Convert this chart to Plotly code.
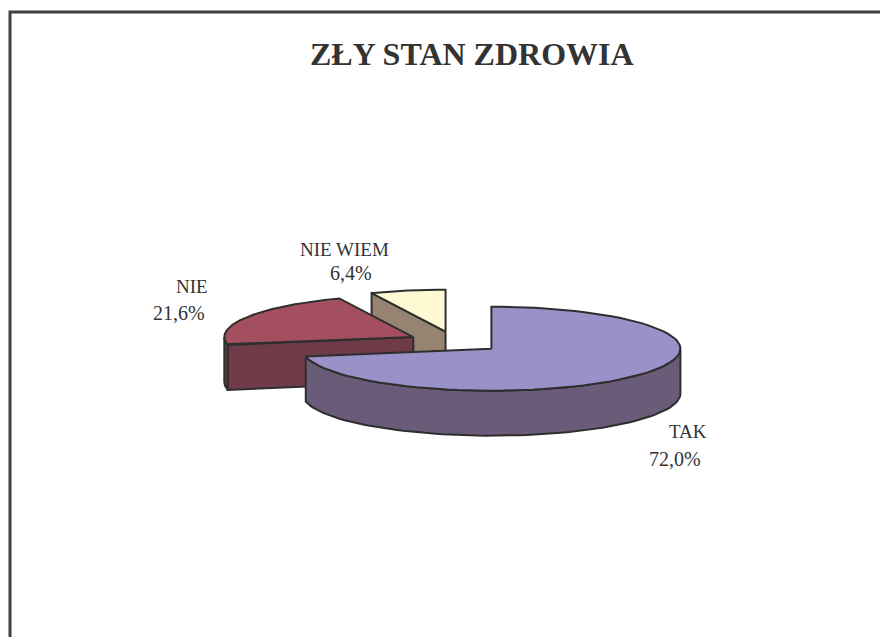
import numpy as np
import plotly.graph_objects as go

# ---- data ----
categories = ["TAK", "NIE", "NIE WIEM"]
values = [72.0, 21.6, 6.4]
title_text = "ZŁY STAN ZDROWIA"

# ---- styles ----
top_colors = ["#9A91C9", "#A34F60", "#FFF9D3"]
side_colors = ["#6A5C79", "#6F3B48", "#978470"]
edge_color = "#2E2E2E"
text_color = "#333333"

# ---- 3D pie projection (page pixel space) ----
CX, CY = 455, 342
RX, RY = 189, 42
DEPTH = 45
EXPLODE = 0.25
PAGE_W, PAGE_H = 888, 637
OFFSET = 8  # default page margin around the figure div

# label anchor points (name line, value line)
label_pos = {
    "TAK": [(688, 431), (675, 459)],
    "NIE": [(192, 286), (179, 313)],
    "NIE WIEM": [(344, 249), (351, 273)],
}


def rim(ax, ay, th, dz=0.0):
    return ax + RX * np.sin(th), ay - RY * np.cos(th) + dz


def arc(ax, ay, t0, t1, dz=0.0, n=80):
    ts = np.linspace(t0, t1, n)
    return ax + RX * np.sin(ts), ay - RY * np.cos(ts) + dz


total = sum(values)
slices = []
start = 0.0
for name, v, tc, sc in zip(categories, values, top_colors, side_colors):
    a0 = start
    a1 = start + 2 * np.pi * v / total
    start = a1
    m = (a0 + a1) / 2
    ax = CX + EXPLODE * RX * np.sin(m)
    ay = CY - EXPLODE * RY * np.cos(m)
    slices.append(dict(name=name, a0=a0, a1=a1, ax=ax, ay=ay, tc=tc, sc=sc))

fig = go.Figure()


def poly(xs, ys, color):
    xs = list(xs) + [xs[0]]
    ys = list(ys) + [ys[0]]
    fig.add_trace(go.Scatter(
        x=xs, y=ys, mode="lines", fill="toself", fillcolor=color,
        line=dict(color=edge_color, width=2), hoverinfo="skip",
        showlegend=False))


for s in sorted(slices, key=lambda d: d["ay"]):
    ax, ay, a0, a1 = s["ax"], s["ay"], s["a0"], s["a1"]
    if np.sin(a0) < -1e-6:
        rx0, ry0 = rim(ax, ay, a0)
        poly([ax, rx0, rx0, ax], [ay, ry0, ry0 + DEPTH, ay + DEPTH], s["sc"])
    if np.sin(a1) > 1e-6:
        rx1, ry1 = rim(ax, ay, a1)
        poly([ax, rx1, rx1, ax], [ay, ry1, ry1 + DEPTH, ay + DEPTH], s["sc"])
    t0 = max(a0, np.pi / 2)
    t1 = min(a1, 3 * np.pi / 2)
    if t1 > t0:
        xt, yt = arc(ax, ay, t0, t1)
        xb, yb = arc(ax, ay, t1, t0, DEPTH)
        poly(list(xt) + list(xb), list(yt) + list(yb), s["sc"])
    xt, yt = arc(ax, ay, a0, a1)
    poly([ax] + list(xt), [ay] + list(yt), s["tc"])

annotations = [dict(x=472, y=54, xref="x", yref="y", text="<b>%s</b>" % title_text,
                    showarrow=False, font=dict(family="Liberation Serif", size=32, color=text_color))]
for name, v in zip(categories, values):
    (nx, ny), (vx, vy) = label_pos[name]
    annotations.append(dict(x=nx, y=ny, xref="x", yref="y", text=name, showarrow=False,
                            font=dict(family="Liberation Serif", size=19, color=text_color)))
    annotations.append(dict(x=vx, y=vy, xref="x", yref="y",
                            text=("%.1f" % v).replace(".", ",") + "%", showarrow=False,
                            font=dict(family="Liberation Serif", size=20, color=text_color)))

fig.update_layout(
    width=PAGE_W - OFFSET, height=PAGE_H - OFFSET,
    margin=dict(l=0, r=0, t=0, b=0),
    paper_bgcolor="white", plot_bgcolor="white",
    xaxis=dict(range=[OFFSET, PAGE_W], visible=False, fixedrange=True),
    yaxis=dict(range=[PAGE_H, OFFSET], visible=False, fixedrange=True),
    showlegend=False,
    annotations=annotations,
    shapes=[dict(type="rect", xref="x", yref="y", x0=10, y0=12, x1=PAGE_W + 20, y1=PAGE_H + 20,
                 line=dict(color="#3F3F3F", width=3), layer="above")],
)

fig.write_html("out.html")
